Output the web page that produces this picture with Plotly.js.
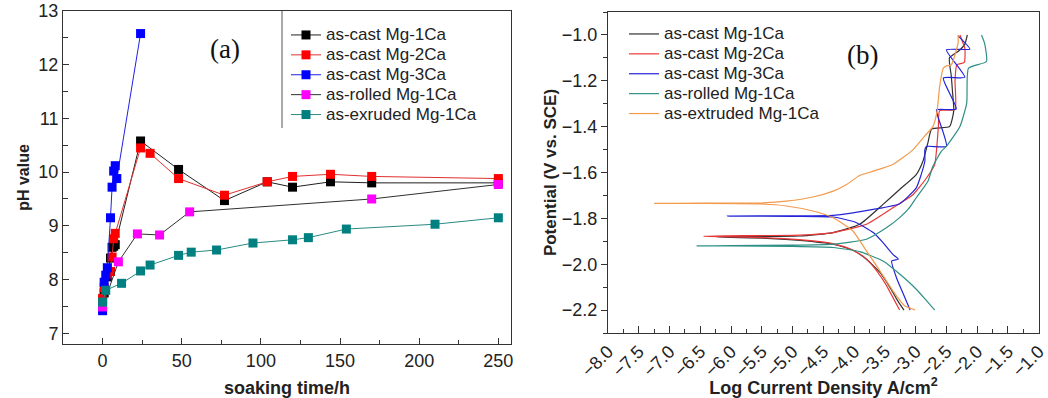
<!DOCTYPE html>
<html><head><meta charset="utf-8">
<script src="https://cdn.plot.ly/plotly-3.0.1.min.js"></script>
<style>body{margin:0;background:#fff}#c{width:1048px;height:398px}</style>
</head><body><div id="c"></div>
<script>
// ---------- Panel (a): pH vs soaking time ----------
const castMg1Ca_t  = [0, 1, 3, 5, 6, 7, 8, 24, 48, 77, 104, 120, 144, 170, 250];
const castMg1Ca_pH = [7.6, 7.75, 8.05, 8.4, 8.6, 8.62, 8.65, 10.58, 10.05, 9.47, 9.82, 9.72, 9.82, 9.8, 9.8];
const castMg2Ca_t  = [0, 1, 3, 5, 6, 7, 8, 24, 30, 48, 77, 104, 120, 144, 170, 250];
const castMg2Ca_pH = [7.65, 7.85, 8.1, 8.15, 8.42, 8.76, 8.86, 10.45, 10.35, 9.88, 9.57, 9.82, 9.92, 9.96, 9.92, 9.88];
const castMg3Ca_t  = [0, 1, 2, 3, 5, 6, 7, 8, 9, 24];
const castMg3Ca_pH = [7.42, 7.95, 8.08, 8.22, 9.15, 9.72, 10.02, 10.12, 9.88, 12.58];
const rolledMg1Ca_t  = [0, 10, 22, 36, 55, 170, 250];
const rolledMg1Ca_pH = [7.49, 8.33, 8.85, 8.83, 9.26, 9.5, 9.77];
const extrudedMg1Ca_t  = [0, 2, 12, 24, 30, 48, 56, 72, 95, 120, 130, 154, 210, 250];
const extrudedMg1Ca_pH = [7.58, 7.8, 7.93, 8.16, 8.27, 8.45, 8.51, 8.55, 8.68, 8.74, 8.78, 8.94, 9.03, 9.15];
const namesA = ["as-cast Mg-1Ca", "as-cast Mg-2Ca", "as-cast Mg-3Ca", "as-rolled Mg-1Ca", "as-exruded Mg-1Ca"];

// ---------- Panel (b): polarization curves (log i, E) ----------
const b_castMg1Ca_logI = [-3.19,-3.29,-3.42,-3.58,-3.80,-4.02,-4.34,-4.88,-5.42,-6.0,-6.23,-6.0,-5.4,-4.88,-4.34,-3.91,-3.53,-3.26,-2.99,-2.88,-2.80,-2.74,-2.45,-2.38,-2.40,-2.42,-2.45,-2.30,-2.20,-2.16];
const b_castMg1Ca_E    = [-2.20,-2.16,-2.10,-2.036,-1.978,-1.939,-1.913,-1.896,-1.887,-1.883,-1.881,-1.880,-1.879,-1.877,-1.862,-1.826,-1.739,-1.674,-1.609,-1.55,-1.47,-1.41,-1.40,-1.33,-1.25,-1.18,-1.10,-1.07,-1.04,-1.00];
const b_castMg2Ca_logI = [-3.26,-3.36,-3.48,-3.63,-3.83,-4.05,-4.35,-4.9,-5.5,-6.1,-6.45,-6.1,-5.5,-4.88,-4.34,-3.80,-3.37,-3.04,-2.82,-2.69,-2.66,-2.63,-2.61,-2.36,-2.36,-2.33,-2.21,-2.20,-2.28];
const b_castMg2Ca_E    = [-2.20,-2.15,-2.09,-2.03,-1.97,-1.935,-1.91,-1.893,-1.884,-1.880,-1.878,-1.876,-1.875,-1.873,-1.862,-1.826,-1.754,-1.696,-1.623,-1.565,-1.50,-1.40,-1.33,-1.326,-1.20,-1.13,-1.12,-1.06,-1.00];
const b_castMg3Ca_logI = [-3.09,-3.20,-3.31,-3.39,-3.28,-3.37,-3.53,-3.69,-3.96,-4.34,-5.0,-6.06,-5.0,-4.34,-3.69,-3.26,-2.99,-2.91,-2.85,-2.85,-2.82,-2.50,-2.64,-2.66,-2.34,-2.55,-2.20,-2.50,-2.12,-2.31];
const b_castMg3Ca_E    = [-2.20,-2.13,-2.06,-1.986,-1.978,-1.957,-1.906,-1.862,-1.819,-1.794,-1.791,-1.790,-1.789,-1.787,-1.761,-1.736,-1.667,-1.609,-1.55,-1.50,-1.486,-1.486,-1.355,-1.326,-1.323,-1.188,-1.185,-1.065,-1.062,-1.004];
const b_rolledMg1Ca_logI = [-2.69,-2.82,-2.99,-3.26,-3.53,-3.91,-4.34,-5.0,-6.0,-6.56,-6.0,-5.0,-4.34,-3.80,-3.47,-3.26,-3.10,-2.99,-2.80,-2.72,-2.58,-2.50,-2.28,-2.17,-2.14,-1.85,-1.88,-1.93];
const b_rolledMg1Ca_E    = [-2.20,-2.16,-2.109,-2.043,-1.986,-1.945,-1.927,-1.922,-1.920,-1.920,-1.919,-1.917,-1.912,-1.891,-1.84,-1.797,-1.753,-1.71,-1.638,-1.573,-1.507,-1.486,-1.399,-1.297,-1.145,-1.116,-1.036,-1.0];
const b_extrudedMg1Ca_logI = [-3.01,-3.18,-3.37,-3.58,-3.80,-4.02,-4.34,-4.67,-5.10,-5.53,-6.5,-7.25,-6.5,-5.53,-5.10,-4.67,-4.34,-4.12,-3.91,-3.69,-3.37,-3.04,-2.85,-2.72,-2.65,-2.61,-2.55,-2.50,-2.42,-2.31,-2.31];
const b_extrudedMg1Ca_E    = [-2.199,-2.181,-2.116,-2.029,-1.942,-1.855,-1.797,-1.768,-1.746,-1.737,-1.735,-1.735,-1.734,-1.733,-1.725,-1.707,-1.681,-1.652,-1.613,-1.594,-1.565,-1.50,-1.44,-1.40,-1.33,-1.225,-1.145,-1.135,-1.13,-1.036,-1.0];
const namesB = ["as-cast Mg-1Ca", "as-cast Mg-2Ca", "as-cast Mg-3Ca", "as-rolled Mg-1Ca", "as-extruded Mg-1Ca"];

const FONT = "Arial, 'Liberation Sans', sans-serif";
const W = 1048, H = 398;
const px = v => v / W, py = v => 1 - v / H;
const legName = s => '<span style="font-size:17px">' + s + '</span>';

const markerColA = ["#000000", "#ff0000", "#0000ff", "#ff00ff", "#008080"];
const lineColA   = ["#202020", "#e03030", "#2020e0", "#303030", "#2a8a84"];
const dataA = [
  [castMg1Ca_t, castMg1Ca_pH], [castMg2Ca_t, castMg2Ca_pH], [castMg3Ca_t, castMg3Ca_pH],
  [rolledMg1Ca_t, rolledMg1Ca_pH], [extrudedMg1Ca_t, extrudedMg1Ca_pH]
];
const traces = [];
dataA.forEach((d, i) => {
  traces.push({
    x: d[0], y: d[1], type: "scatter", mode: "lines+markers", name: legName(namesA[i]),
    xaxis: "x", yaxis: "y", legend: "legend",
    line: {color: lineColA[i], width: 1},
    marker: {symbol: "square", size: 9, color: markerColA[i], line: {width: 0}}
  });
});
const lineColB = ["#303030", "#e8393a", "#2424d8", "#2f8f86", "#f39a4c"];
const dataB = [
  [b_castMg1Ca_logI, b_castMg1Ca_E], [b_castMg2Ca_logI, b_castMg2Ca_E], [b_castMg3Ca_logI, b_castMg3Ca_E],
  [b_rolledMg1Ca_logI, b_rolledMg1Ca_E], [b_extrudedMg1Ca_logI, b_extrudedMg1Ca_E]
];
dataB.forEach((d, i) => {
  traces.push({
    x: d[0], y: d[1], type: "scatter", mode: "lines", name: legName(namesB[i]),
    xaxis: "x2", yaxis: "y2", legend: "legend2",
    line: {color: lineColB[i], width: 1.2, shape: "spline", smoothing: 0.5}
  });
});

const axBase = {showgrid: false, zeroline: false, showline: true, linecolor: "#333", linewidth: 1,
  mirror: true, tickcolor: "#333", tickfont: {family: FONT, size: 18, color: "#222"}};

const layout = {
  width: W, height: H, margin: {l: 0, r: 0, t: 0, b: 0},
  paper_bgcolor: "#fff", plot_bgcolor: "#fff", showlegend: true,
  xaxis: Object.assign({}, axBase, {
    domain: [px(63), px(511)], anchor: "y", range: [-25, 258], tick0: 0, dtick: 50,
    ticks: "inside", ticklen: 6, minor: {dtick: 25, ticks: "inside", ticklen: 4, tickcolor: "#333"},
    title: {text: "<b>soaking time/h</b>", font: {family: FONT, size: 18, color: "#222"}, standoff: 12}
  }),
  yaxis: Object.assign({}, axBase, {
    domain: [1 - 344 / H, 1 - 11 / H], anchor: "x", range: [6.8, 13], dtick: 1,
    ticks: "inside", ticklen: 6, minor: {dtick: 0.5, ticks: "inside", ticklen: 5, tickcolor: "#333"},
    title: {text: "<b>pH value</b>", font: {family: FONT, size: 16, color: "#222"}, standoff: 4}
  }),
  xaxis2: Object.assign({}, axBase, {
    domain: [px(608), px(1039)], anchor: "y2", range: [-8.0, -0.995], tick0: -8, dtick: 0.5, tickformat: ".1f",
    tickangle: -45, ticks: "inside", ticklen: 7, minor: {dtick: 0.25, ticks: "inside", ticklen: 4, tickcolor: "#333"},
    title: {text: "<b>Log Current Density A/cm<sup>2</sup></b>", font: {family: FONT, size: 18, color: "#222"}, standoff: 6}
  }),
  yaxis2: Object.assign({}, axBase, {
    domain: [1 - 333 / H, 1 - 12 / H], anchor: "x2", range: [-2.3, -0.9], tick0: -2.2, dtick: 0.2, tickformat: ".1f",
    ticks: "outside", ticklen: 6, minor: {dtick: 0.1, ticks: "outside", ticklen: 4, tickcolor: "#333"},
    title: {text: "<b>Potential (V vs. SCE)</b>", font: {family: FONT, size: 17, color: "#222"}, standoff: 0}
  }),
  legend: {x: px(286), y: py(20), xanchor: "left", yanchor: "top", bgcolor: "rgba(255,255,255,0)",
    borderwidth: 0, font: {family: FONT, size: 13, color: "#222"}, tracegroupgap: 0},
  legend2: {x: px(624), y: py(19), xanchor: "left", yanchor: "top", bgcolor: "rgba(255,255,255,0)",
    borderwidth: 0, font: {family: FONT, size: 13, color: "#222"}, tracegroupgap: 0},
  shapes: [
    {type: "line", xref: "paper", yref: "paper", x0: px(282), x1: px(282), y0: py(11), y1: py(128),
     line: {color: "#555", width: 1}}
  ],
  annotations: [
    {text: "(a)", xref: "paper", yref: "paper", x: px(225), y: py(49), xanchor: "center", yanchor: "middle", showarrow: false,
     font: {family: "'Liberation Serif', 'Times New Roman', serif", size: 27, color: "#111"}},
    {text: "(b)", xref: "paper", yref: "paper", x: px(862), y: py(55), xanchor: "center", yanchor: "middle", showarrow: false,
     font: {family: "'Liberation Serif', 'Times New Roman', serif", size: 27, color: "#111"}}
  ]
};
Plotly.newPlot("c", traces, layout, {displayModeBar: false, staticPlot: true});
</script></body></html>
